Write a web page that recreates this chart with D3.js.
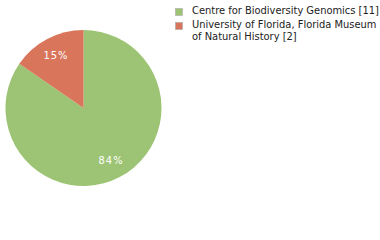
<!DOCTYPE html>
<html>
<head>
<meta charset="utf-8">
<script src="https://cdn.jsdelivr.net/npm/d3@7"></script>
<style>
  body { margin: 0; background: #fff; }
  text { font-family: "DejaVu Sans Condensed", "DejaVu Sans", sans-serif; }
</style>
</head>
<body>
<div id="chart"></div>
<script>
var institutions = ["Centre for Biodiversity Genomics [11]", "University of Florida, Florida Museum of Natural History [2]"];
var legendLines = [["Centre for Biodiversity Genomics [11]"], ["University of Florida, Florida Museum", "of Natural History [2]"]];
var counts = [11, 2];
var pctLabels = ["84%", "15%"];
var colors = ["#9dc474", "#d9755a"];

var svgWidth = 380;
var svgHeight = 240;
var cx = 83.5, cy = 108, radius = 78;

var svg = d3.select("#chart")
  .append("svg")
  .attr("width", svgWidth)
  .attr("height", svgHeight);

var pie = d3.pie().sort(null).value(d => d);
var arcs = pie(counts);

var arc = d3.arc().innerRadius(0).outerRadius(radius);
var labelArc = d3.arc().innerRadius(radius * 0.76).outerRadius(radius * 0.76);

var pieGroup = svg.append("g")
  .attr("transform", `translate(${cx}, ${cy})`);

pieGroup.selectAll("path")
  .data(arcs)
  .enter()
  .append("path")
  .attr("d", arc)
  .attr("fill", (d, i) => colors[i]);

pieGroup.selectAll("text")
  .data(arcs)
  .enter()
  .append("text")
  .attr("transform", d => `translate(${labelArc.centroid(d)})`)
  .attr("dy", "0.35em")
  .attr("text-anchor", "middle")
  .attr("font-size", "11px")
  .attr("letter-spacing", "1px")
  .attr("fill", "#fff")
  .text((d, i) => pctLabels[i]);

// legend
var legend = svg.append("g")
  .attr("transform", "translate(175, 0)");

var lineY = [14, 28];
legend.selectAll("rect")
  .data(institutions)
  .enter()
  .append("rect")
  .attr("x", 0.5)
  .attr("y", (d, i) => lineY[i] - 5.5)
  .attr("width", 7)
  .attr("height", 7)
  .attr("fill", (d, i) => colors[i])
  .attr("stroke", "#aaa")
  .attr("stroke-width", 0.6);

legendLines.forEach(function(lines, i) {
  var t = legend.append("text")
    .attr("x", 17)
    .attr("y", lineY[i])
    .attr("font-size", "11px")
    .attr("fill", "#222");
  lines.forEach(function(line, j) {
    t.append("tspan")
      .attr("x", 17)
      .attr("dy", j === 0 ? 0 : 11.5)
      .text(line);
  });
});
</script>
</body>
</html>
